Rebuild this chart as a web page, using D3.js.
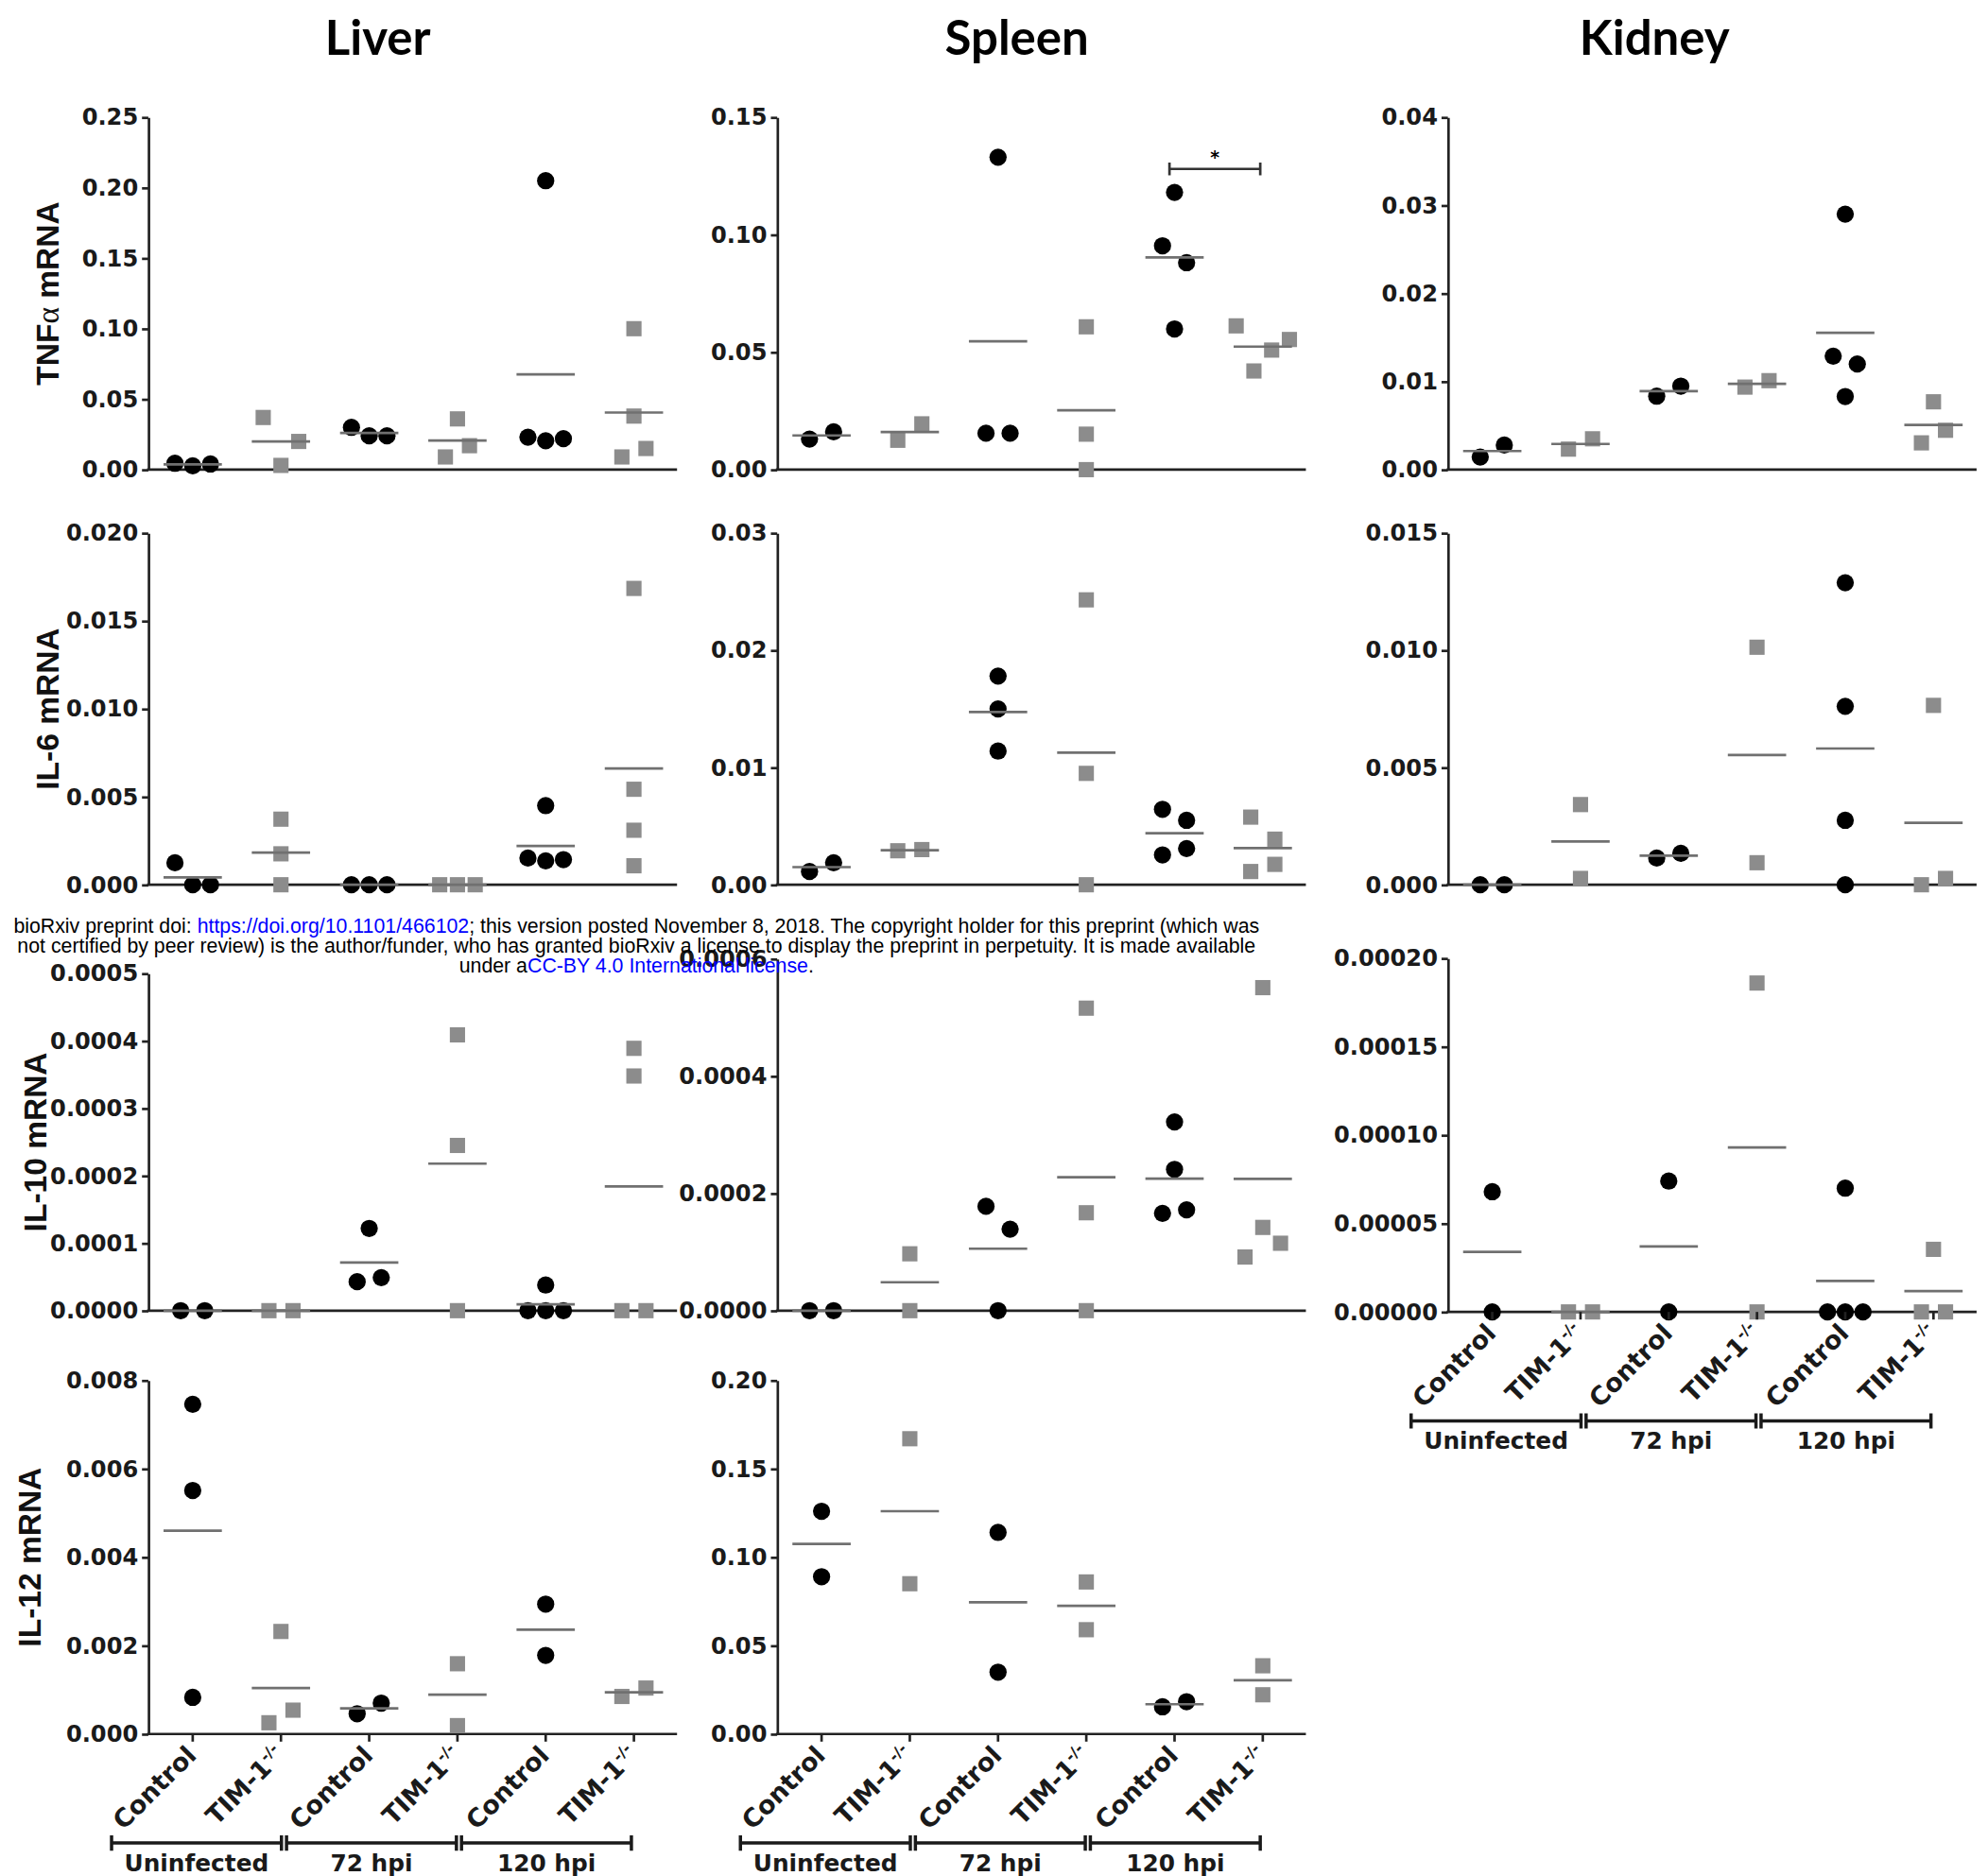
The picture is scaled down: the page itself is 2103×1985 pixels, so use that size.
<!DOCTYPE html>
<meta charset="utf-8">
<html>

<head>
  <title>TIM-1 cytokine mRNA</title>
  <style>
    body { margin: 0; background: #fff; }
  </style>
</head>

<body>
  <!-- Load d3.js -->
  <script src="https://d3js.org/d3.v7.js"></script>

  <div id="my_dataviz"></div>

  <script>
    // ---------- data ----------
    var organs = ["Liver", "Spleen", "Kidney"];
    var cytokineTitles = ["TNF", "IL-6 mRNA", "IL-10 mRNA", "IL-12 mRNA"];
    var groupKeys = ["unCtrl", "unTim", "h72Ctrl", "h72Tim", "h120Ctrl", "h120Tim"];
    var groupNames = ["Control", "TIM-1", "Control", "TIM-1", "Control", "TIM-1"];
    var timepoints = ["Uninfected", "72 hpi", "120 hpi"];

    // one array per group (Control = circles, TIM-1-/- = squares)
    var liverTNF = [[0.0045, 0.0027, 0.0040], [0.037, 0.003, 0.020], [0.030, 0.024, 0.024],
                    [0.036, 0.009, 0.017], [0.205, 0.023, 0.0205, 0.022], [0.100, 0.038, 0.009, 0.015]];
    var spleenTNF = [[0.0130, 0.0161], [0.0125, 0.0195], [0.133, 0.0155, 0.0155],
                     [0.0608, 0.0151, 0.0], [0.118, 0.0953, 0.0881, 0.0599], [0.0612, 0.042, 0.0509, 0.0554]];
    var kidneyTNF = [[0.00143, 0.00279], [0.00233, 0.0035], [0.00834, 0.00948],
                     [0.00937, 0.0101], [0.029, 0.01288, 0.01199, 0.0083], [0.0077, 0.00304, 0.00447]];

    var liverIL6 = [[0.00125, 0, 0], [0.00373, 0.00176, 0], [0, 0, 0],
                    [0, 0, 0], [0.0045, 0.00152, 0.00136, 0.00143], [0.01685, 0.00543, 0.0031, 0.00108]];
    var spleenIL6 = [[0.00113, 0.00188], [0.0029, 0.0030], [0.0178, 0.0150, 0.0114],
                     [0.0243, 0.0095, 0], [0.00644, 0.0055, 0.00255, 0.00309], [0.00577, 0.00389, 0.00113, 0.00174]];
    var kidneyIL6 = [[0, 0], [0.00342, 0.00027], [0.00114, 0.00134],
                     [0.01013, 0.00094], [0.01288, 0.00761, 0.00275, 0], [0.00765, 0, 0.00027]];

    var liverIL10 = [[0, 0], [0, 0], [0.000122, 0.000043, 0.000049],
                     [0.000409, 0.000245, 0], [0.000038, 0, 0, 0], [0.000389, 0.000348, 0, 0]];
    var spleenIL10 = [[0, 0], [0.000097, 0], [0.000178, 0.000139, 0],
                      [0.000516, 0.000167, 0], [0.000322, 0.000241, 0.000166, 0.000172], [0.000551, 0.0000915, 0.000142, 0.000115]];
    var kidneyIL10 = [[0.000068, 0], [0, 0], [0.000074, 0],
                      [0.000186, 0], [0.00007, 0, 0, 0], [0.0000354, 0, 0]];

    var liverIL12 = [[0.00746, 0.00551, 0.00083], [0.00232, 0.000255, 0.00054], [0.00046, 0.0007],
                     [0.00159, 0.00019], [0.00294, 0.00178], [0.00085, 0.00104]];
    var spleenIL12 = [[0.126, 0.089], [0.167, 0.085], [0.114, 0.035],
                      [0.086, 0.059], [0.0154, 0.0183], [0.0386, 0.0222]];

    // y tick values
    var liverTNFTicks = [0, 0.05, 0.10, 0.15, 0.20, 0.25];
    var spleenTNFTicks = [0, 0.05, 0.10, 0.15];
    var kidneyTNFTicks = [0, 0.01, 0.02, 0.03, 0.04];
    var liverIL6Ticks = [0, 0.005, 0.010, 0.015, 0.020];
    var spleenIL6Ticks = [0, 0.01, 0.02, 0.03];
    var kidneyIL6Ticks = [0, 0.005, 0.010, 0.015];
    var liverIL10Ticks = [0, 0.0001, 0.0002, 0.0003, 0.0004, 0.0005];
    var spleenIL10Ticks = [0, 0.0002, 0.0004, 0.0006];
    var kidneyIL10Ticks = [0, 0.00005, 0.0001, 0.00015, 0.0002];
    var liverIL12Ticks = [0, 0.002, 0.004, 0.006, 0.008];
    var spleenIL12Ticks = [0, 0.05, 0.10, 0.15, 0.20];

    // significance: spleen TNF, 120 hpi Control vs TIM-1
    var sigBar = { from: 4, to: 5, value: 0.128, label: "*" };

    var panels = [
      { row: 0, col: 0, values: liverTNF, ticks: liverTNFTicks, fmt: ".2f" },
      { row: 0, col: 1, values: spleenTNF, ticks: spleenTNFTicks, fmt: ".2f", sig: sigBar },
      { row: 0, col: 2, values: kidneyTNF, ticks: kidneyTNFTicks, fmt: ".2f" },
      { row: 1, col: 0, values: liverIL6, ticks: liverIL6Ticks, fmt: ".3f" },
      { row: 1, col: 1, values: spleenIL6, ticks: spleenIL6Ticks, fmt: ".2f" },
      { row: 1, col: 2, values: kidneyIL6, ticks: kidneyIL6Ticks, fmt: ".3f" },
      { row: 2, col: 0, values: liverIL10, ticks: liverIL10Ticks, fmt: ".4f" },
      { row: 2, col: 1, values: spleenIL10, ticks: spleenIL10Ticks, fmt: ".4f" },
      { row: 2, col: 2, values: kidneyIL10, ticks: kidneyIL10Ticks, fmt: ".5f", labels: true },
      { row: 3, col: 0, values: liverIL12, ticks: liverIL12Ticks, fmt: ".3f", labels: true },
      { row: 3, col: 1, values: spleenIL12, ticks: spleenIL12Ticks, fmt: ".2f", labels: true }
    ];

    // ---------- layout (figure units, scaled to the page by the viewBox) ----------
    var W = 1568, H = 1480;
    var axisX = [117, 613, 1142];
    var plotW = 417, firstPad = 35, step = 69.6;
    var yBox = [
      [[92.5, 370.5], [92.5, 370.5], [92.5, 370.5]],
      [[420.5, 698], [420.5, 698], [420.5, 698]],
      [[768, 1034], [756.5, 1034], [756, 1035]],
      [[1089, 1368], [1089, 1368], null]
    ];
    var titleX = [298, 802, 1305];
    var yTitleX = [37, 37, 27.5, 23];

    var tickFont = "'DejaVu Sans', sans-serif";
    var axisColor = "#222";

    var svg = d3.select("#my_dataviz")
      .append("svg")
      .attr("width", 2103)
      .attr("height", 1985)
      .attr("viewBox", "0 0 " + W + " " + H);

    svg.append("rect").attr("width", W).attr("height", H).attr("fill", "#fff");

    // column titles
    svg.selectAll(".organ")
      .data(organs)
      .enter()
      .append("text")
      .attr("x", function (d, i) { return titleX[i]; })
      .attr("y", 43.5)
      .attr("text-anchor", "middle")
      .style("font-family", "Lato, sans-serif")
      .style("font-weight", "bold")
      .style("font-size", "38px")
      .text(function (d) { return d; });

    // spread points of one group sideways when they sit on top of each other
    function spread(vals, y) {
      var idx = vals.map(function (v, i) { return i; })
        .sort(function (a, b) { return vals[b] - vals[a] || a - b; });
      var clusters = [], cur = [idx[0]];
      for (var k = 1; k < idx.length; k++) {
        if (Math.abs(y(vals[idx[k - 1]]) - y(vals[idx[k]])) < 19.3) cur.push(idx[k]);
        else { clusters.push(cur); cur = [idx[k]]; }
      }
      clusters.push(cur);
      var offs = [];
      clusters.forEach(function (c) {
        c.sort(function (a, b) { return a - b; });
        var n = c.length, s = n == 2 ? 19 : 14;
        c.forEach(function (i, j) { offs[i] = (j - (n - 1) / 2) * s; });
      });
      return offs;
    }

    function drawPanel(p) {
      var x0 = axisX[p.col], box = yBox[p.row][p.col];
      var g = svg.append("g");

      var x = d3.scalePoint()
        .domain(groupKeys)
        .range([x0 + firstPad, x0 + firstPad + 5 * step]);
      var y = d3.scaleLinear()
        .domain([0, d3.max(p.ticks)])
        .range([box[1], box[0]]);

      // y axis
      var ya = g.append("g")
        .attr("transform", "translate(" + x0 + ",0)")
        .call(d3.axisLeft(y).tickValues(p.ticks).tickFormat(d3.format(p.fmt))
          .tickSize(5).tickSizeOuter(0).tickPadding(3));
      ya.select(".domain").attr("stroke", axisColor).attr("stroke-width", 2);
      ya.selectAll(".tick line").attr("stroke", axisColor).attr("stroke-width", 2);
      ya.selectAll(".tick text")
        .attr("fill", "#1a1a1a")
        .style("font-family", tickFont)
        .style("font-weight", "bold")
        .style("font-size", "18px");

      // x axis line
      g.append("line")
        .attr("x1", x0 - 1).attr("x2", x0 + plotW)
        .attr("y1", box[1]).attr("y2", box[1])
        .attr("stroke", axisColor).attr("stroke-width", 2);

      // points
      p.values.forEach(function (vals, gi) {
        var offs = spread(vals, y);
        var cx = x(groupKeys[gi]);
        var pts = vals.map(function (v, i) { return { v: v, o: offs[i] }; });
        if (gi % 2 == 0) {
          g.selectAll(".c" + gi)
            .data(pts)
            .enter()
            .append("circle")
            .attr("cx", function (d) { return cx + d.o; })
            .attr("cy", function (d) { return y(d.v); })
            .attr("r", 6.8)
            .attr("fill", "#000");
        } else {
          g.selectAll(".s" + gi)
            .data(pts)
            .enter()
            .append("rect")
            .attr("x", function (d) { return cx + d.o - 6; })
            .attr("y", function (d) { return y(d.v) - 6; })
            .attr("width", 12)
            .attr("height", 12)
            .attr("fill", "#8c8c8c");
        }
        // mean line
        var m = d3.mean(vals);
        g.append("line")
          .attr("x1", cx - 23).attr("x2", cx + 23)
          .attr("y1", y(m)).attr("y2", y(m))
          .attr("stroke", "#707070")
          .attr("stroke-width", 2);
      });

      // significance bar
      if (p.sig) {
        var sy = y(p.sig.value);
        var sx1 = x(groupKeys[p.sig.from]) - 4, sx2 = x(groupKeys[p.sig.to]) - 2;
        g.append("path")
          .attr("d", "M" + sx1 + "," + (sy - 5) + "V" + (sy + 5) + "M" + sx1 + "," + sy + "H" + sx2 +
            "M" + sx2 + "," + (sy - 5) + "V" + (sy + 5))
          .attr("stroke", "#333").attr("stroke-width", 2).attr("fill", "none");
        g.append("text")
          .attr("x", (sx1 + sx2) / 2)
          .attr("y", sy - 4)
          .attr("text-anchor", "middle")
          .style("font-family", tickFont)
          .style("font-weight", "bold")
          .style("font-size", "14px")
          .text(p.sig.label);
      }

      // group labels and time point brackets
      if (p.labels) {
        groupKeys.forEach(function (k, i) {
          g.append("line")
            .attr("x1", x(k)).attr("x2", x(k))
            .attr("y1", box[1]).attr("y2", box[1] + 6)
            .attr("stroke", axisColor).attr("stroke-width", 2);
          var t = g.append("text")
            .attr("transform", "translate(" + (x(k) + 4) + "," + (box[1] + 18) + ") rotate(-45)")
            .attr("text-anchor", "end")
            .attr("fill", "#1a1a1a")
            .style("font-family", tickFont)
            .style("font-weight", "bold")
            .style("font-size", "20px");
          t.append("tspan").text(groupNames[i]);
          if (i % 2 == 1) {
            t.append("tspan")
              .attr("dy", -8)
              .style("font-size", "12px")
              .text("-/-");
          }
        });
        var by = box[1] + 86;
        var L = x(groupKeys[0]) - 64, R = x(groupKeys[5]) - 2;
        var bw = (R - L - 8) / 3;
        timepoints.forEach(function (tp, k) {
          var bl = L + k * (bw + 4), br = bl + bw;
          g.append("path")
            .attr("d", "M" + bl + "," + (by - 6) + "V" + (by + 6) + "M" + bl + "," + by + "H" + br +
              "M" + br + "," + (by - 6) + "V" + (by + 6))
            .attr("stroke", "#1a1a1a").attr("stroke-width", 2.6).attr("fill", "none");
          g.append("text")
            .attr("x", (bl + br) / 2)
            .attr("y", by + 22)
            .attr("text-anchor", "middle")
            .attr("fill", "#1a1a1a")
            .style("font-family", tickFont)
            .style("font-weight", "bold")
            .style("font-size", "18.5px")
            .text(tp);
        });
      }

      // row title on the left column
      if (p.col == 0) {
        var yt = svg.append("text")
          .attr("transform", "translate(" + (yTitleX[p.row] + 9) + "," + ((box[0] + box[1]) / 2) + ") rotate(-90)")
          .attr("text-anchor", "middle")
          .attr("fill", "#111")
          .style("font-family", "'Liberation Sans', Arial, sans-serif")
          .style("font-weight", "bold")
          .style("font-size", "25px");
        if (p.row == 0) {
          yt.append("tspan").text("TNF");
          yt.append("tspan")
            .style("font-family", "'Liberation Serif', serif")
            .style("font-weight", "normal")
            .text("\u03b1");
          yt.append("tspan").text(" mRNA");
        } else {
          yt.text(cytokineTitles[p.row]);
        }
      }
    }

    panels.forEach(drawPanel);

    // bioRxiv stamp
    var stamp = svg.append("g")
      .attr("text-anchor", "middle")
      .style("font-family", "'Liberation Sans', Arial, sans-serif")
      .style("font-size", "15.9px");
    var l1 = stamp.append("text").attr("x", 502).attr("y", 736);
    l1.append("tspan").text("bioRxiv preprint doi: ");
    l1.append("tspan").attr("fill", "#0000ff").text("https://doi.org/10.1101/466102");
    l1.append("tspan").text("; this version posted November 8, 2018. The copyright holder for this preprint (which was");
    stamp.append("text").attr("x", 502).attr("y", 751.5)
      .text("not certified by peer review) is the author/funder, who has granted bioRxiv a license to display the preprint in perpetuity. It is made available");
    var l3 = stamp.append("text").attr("x", 502).attr("y", 767);
    l3.append("tspan").text("under a");
    l3.append("tspan").attr("fill", "#0000ff").text("CC-BY 4.0 International license");
    l3.append("tspan").text(".");
  </script>
</body>

</html>
